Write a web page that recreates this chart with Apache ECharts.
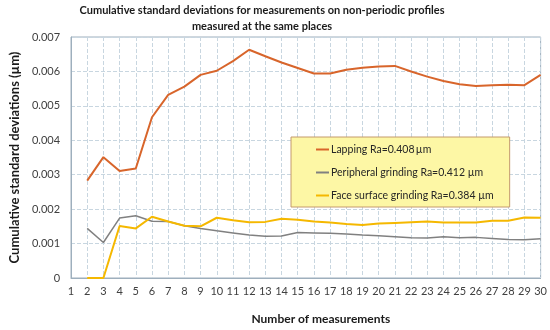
<!DOCTYPE html>
<html><head><meta charset="utf-8">
<script src="https://cdn.jsdelivr.net/npm/echarts@6/dist/echarts.min.js"></script>
<style>html,body{margin:0;padding:0;background:#fff}#c{width:550px;height:330px}</style>
</head><body><div id="c"></div>
<script>
var categories = ['1','2','3','4','5','6','7','8','9','10','11','12','13','14','15','16','17','18','19','20','21','22','23','24','25','26','27','28','29','30'];
var lapping = [null,0.00283,0.00351,0.00311,0.00318,0.00467,0.00532,0.00556,0.00590,0.00602,0.00630,0.00663,0.00644,0.00626,0.00610,0.00594,0.00594,0.00605,0.00611,0.00614,0.00616,0.00600,0.00585,0.00572,0.00563,0.00558,0.00560,0.00561,0.00560,0.00590];
var peripheral = [null,0.00144,0.00103,0.00174,0.00181,0.00165,0.00164,0.00152,0.00144,0.00137,0.00131,0.00125,0.00121,0.00122,0.00132,0.00131,0.00130,0.00128,0.00125,0.00123,0.00120,0.00117,0.00116,0.00120,0.00117,0.00118,0.00115,0.00112,0.00111,0.00114];
var face = [null,0,0,0.00151,0.00144,0.00178,0.00164,0.00152,0.00150,0.00175,0.00168,0.00162,0.00163,0.00172,0.00169,0.00164,0.00161,0.00157,0.00154,0.00158,0.00160,0.00162,0.00164,0.00161,0.00161,0.00161,0.00166,0.00166,0.00176,0.00175];
var yTicks = [0,0.001,0.002,0.003,0.004,0.005,0.006,0.007];
var seriesNames = ['Lapping Ra=0.408\u2009µm','Peripheral grinding Ra=0.412 µm','Face surface grinding Ra=0.384 µm'];
var titleLines = ['Cumulative standard deviations for measurements on non-periodic profiles','measured at the same places'];

var chart = echarts.init(document.getElementById('c'), null, {renderer:'canvas'});
var font = 'Lato, "Open Sans", sans-serif';
function mk(name, data, color, w){
  return {name:name, type:'line', data:data, symbol:'none', showSymbol:false, connectNulls:false,
    lineStyle:{color:color, width:w}, itemStyle:{color:color}, emphasis:{disabled:true}, z: 3};
}
chart.setOption({
  animation:false,
  backgroundColor:'#ffffff',
  graphic:[{type:'text', x:262, y:2, style:{text:titleLines.join('\n'), align:'center', verticalAlign:'top',
    font:'bold 11px ' + font, fill:'#1a1a1a', lineHeight:16}}],
  grid:{left:60, right:9, top:37, bottom:43, show:true, borderColor:'#9EAFBD', borderWidth:1, containLabel:false},
  legend:{orient:'vertical', left:291, top:137, icon:'rect', itemWidth:13, itemHeight:2, itemGap:10,
    padding:[6,16,5,25], backgroundColor:'#FDF7A5', borderColor:'#C49A6C', borderWidth:1,
    textStyle:{fontFamily:font, fontSize:10.5, color:'#262626', lineHeight:13, padding:[0,0,0,-3]}, data:seriesNames},
  xAxis:{type:'category', data:categories, boundaryGap:false,
    name:'Number of measurements', nameLocation:'middle', nameGap:35,
    nameTextStyle:{fontFamily:font, fontSize:12, fontWeight:'bold', color:'#1a1a1a', padding:[0,0,0,30]},
    axisLine:{lineStyle:{color:'#9EAFBD'}}, axisTick:{show:false},
    axisLabel:{fontFamily:font, fontSize:11, color:'#404040', margin:8, interval:0},
    splitLine:{show:true, lineStyle:{color:'#C8D6E0', type:'dashed'}}},
  yAxis:{type:'value', min:0, max:0.007, interval:0.001,
    name:'Cumulative standard deviations (µm)', nameLocation:'middle', nameGap:41,
    nameTextStyle:{fontFamily:font, fontSize:13, fontWeight:'bold', color:'#1a1a1a'},
    axisLine:{show:true, lineStyle:{color:'#9EAFBD'}}, axisTick:{show:false},
    axisLabel:{fontFamily:font, fontSize:11, color:'#404040', margin:11,
      formatter:function(v){ for(var i=0;i<yTicks.length;i++){ if(Math.abs(v-yTicks[i])<1e-9) return yTicks[i]===0?'0':yTicks[i].toFixed(3);} return ''; }},
    splitLine:{show:true, lineStyle:{color:'#C8D6E0', type:'dashed'}}},
  series:[mk(seriesNames[0], lapping, '#D8652B', 2), mk(seriesNames[1], peripheral, '#808080', 1.5), mk(seriesNames[2], face, '#F5B800', 2)]
});
</script></body></html>
